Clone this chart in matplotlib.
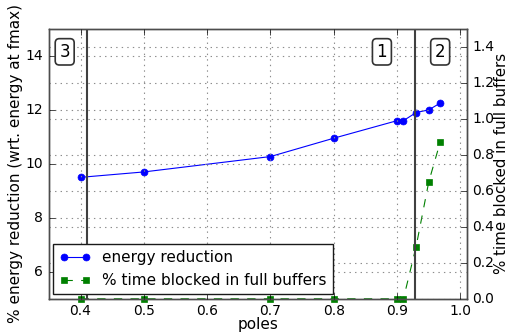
import numpy as np
import matplotlib.pyplot as plt

# data
poles = [0.4, 0.5, 0.7, 0.8, 0.9, 0.91, 0.93, 0.95, 0.968]
energy_red = [9.5, 9.7, 10.27, 10.95, 11.6, 11.6, 11.9, 12.0, 12.25]
blocked = [0, 0, 0, 0, 0, 0, 0.29, 0.65, 0.87]
region_lines = [0.41, 0.928]
region_labels = ["3", "1", "2"]
region_label_x = [0.375, 0.876, 0.968]

plt.style.use("classic")
plt.rcParams["figure.facecolor"] = "white"
plt.rcParams["savefig.facecolor"] = "white"

fig, ax = plt.subplots(figsize=(5.09, 3.32), dpi=100)
ax2 = ax.twinx()

l1, = ax.plot(poles, energy_red, "o-", color="b", lw=0.8, ms=5, mec="b",
              label="energy reduction")
l2, = ax2.plot(poles, blocked, "s--", color="g", lw=0.8, ms=5, mec="g",
               label="% time blocked in full buffers", clip_on=False)

for xv in region_lines:
    ax.axvline(xv, color="0.25", lw=1.5)
for lab, xv in zip(region_labels, region_label_x):
    ax.text(xv, 14.15, lab, ha="center", va="center", fontsize=12,
            bbox=dict(boxstyle="round,pad=0.25", fc="white", ec="0.2", lw=1.2))

ax.set_xlim(0.35, 1.01)
ax.set_ylim(5, 15)
ax2.set_ylim(0, 1.5)
ax.set_xticks(np.arange(0.4, 1.01, 0.1))
ax.set_yticks([6, 8, 10, 12, 14])
ax2.set_yticks(np.arange(0, 1.41, 0.2))
ax.grid(True, ls=":", color="0.55", lw=0.8)
ax2.grid(True, ls=":", color="0.55", lw=0.8)
for a in (ax, ax2):
    a.tick_params(labelsize=10)
    for s in a.spines.values():
        s.set_color("0.3")

ax.set_xlabel("poles", fontsize=11, labelpad=-1)
ax.set_ylabel("% energy reduction (wrt. energy at fmax)", fontsize=11, labelpad=2)
ax2.set_ylabel("% time blocked in full buffers", fontsize=10.8, labelpad=0)

leg = ax.legend([l1, l2], [l1.get_label(), l2.get_label()], loc="lower left",
                fontsize=11, numpoints=2, borderaxespad=0.3)
leg.get_frame().set_edgecolor("0.1")
ax.set_zorder(ax2.get_zorder() + 1)
ax.patch.set_visible(False)

fig.subplots_adjust(left=0.096, right=0.917, top=0.913, bottom=0.10)
fig.savefig("out.png", dpi=100)
